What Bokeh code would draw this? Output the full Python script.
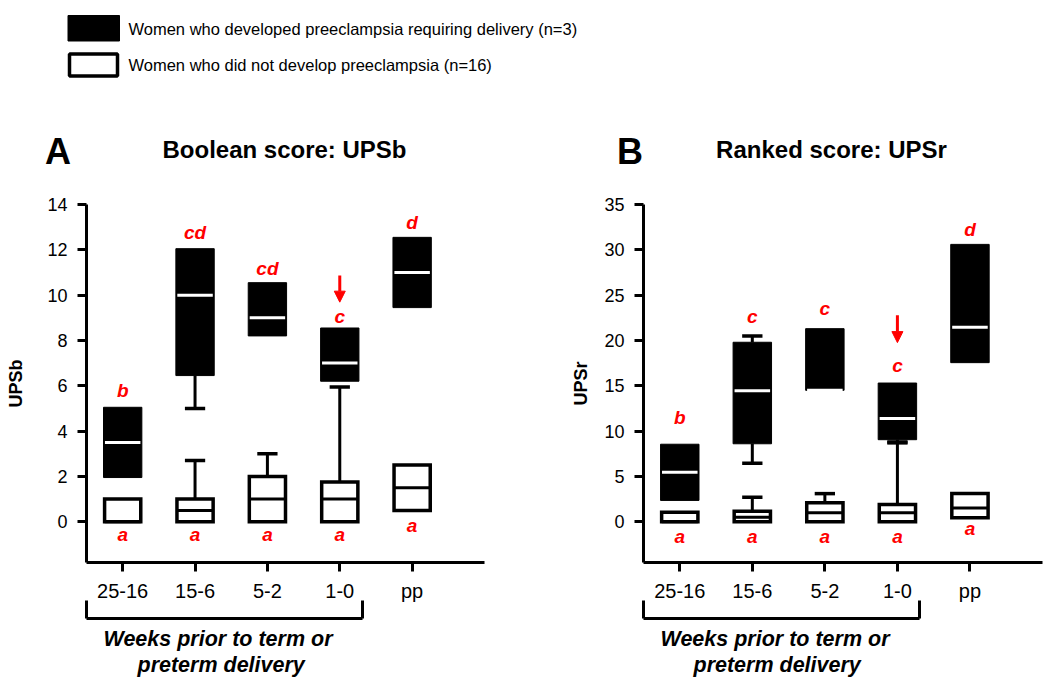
import math
from bokeh.plotting import figure
from bokeh.models import (Range1d, FixedTicker, SingleIntervalTicker, LinearAxis, Arrow,
                          NormalHead, Title, CustomLabelingPolicy)
from bokeh.layouts import column, row
from bokeh.core.properties import value
from bokeh.embed import file_html
from bokeh.resources import INLINE

NaN = float("nan")

# ---------------- data ----------------
groups = ["25-16", "15-6", "5-2", "1-0", "pp"]
xpos = [1, 2, 3, 4, 5]
antepartum = [1, 4]          # groups covered by the bracket (first, last)

legend_labels = ["Women who developed preeclampsia requiring delivery (n=3)",
                 "Women who did not develop preeclampsia (n=16)"]
panel_letters = ["A", "B"]
panel_titles = ["Boolean score: UPSb", "Ranked score: UPSr"]
y_labels = ["UPSb", "UPSr"]
x_caption = ["Weeks prior to term or", "preterm delivery"]

# Panel A : Boolean score UPSb
a_pe_q1 = [1.95, 6.45, 8.2, 6.2, 9.45]
a_pe_med = [3.5, 10.0, 9.0, 7.0, 11.0]
a_pe_q3 = [5.05, 12.05, 10.55, 8.55, 12.55]
a_pe_lo = [NaN, 5.0, NaN, NaN, NaN]
a_pe_hi = [NaN, NaN, NaN, NaN, NaN]

a_np_q1 = [0.0, 0.0, 0.0, 0.0, 0.5]
a_np_med = [0.0, 0.5, 1.0, 1.0, 1.5]
a_np_q3 = [1.0, 1.0, 2.0, 1.75, 2.5]
a_np_hi = [NaN, 2.7, 3.0, 5.95, NaN]

a_top_letters = ["b", "cd", "cd", "c", "d"]
a_top_y = [5.77, 12.75, 11.17, 9.04, 13.2]
a_bot_letters = ["a", "a", "a", "a", "a"]
a_bot_y = [-0.56, -0.56, -0.56, -0.56, -0.16]
a_arrow = (4, 10.87, 9.69)

# Panel B : Ranked score UPSr
b_pe_q1 = [2.35, 8.6, 14.5, 9.05, 17.55]
b_pe_med = [5.45, 14.45, 14.5, 11.4, 21.45]
b_pe_q3 = [8.55, 19.8, 21.3, 15.3, 30.6]
b_pe_lo = [NaN, 6.45, NaN, 8.7, NaN]
b_pe_hi = [NaN, 20.5, NaN, NaN, NaN]

b_np_q1 = [0.0, 0.0, 0.0, 0.0, 0.45]
b_np_med = [0.0, 0.5, 1.0, 1.0, 1.5]
b_np_q3 = [1.05, 1.15, 2.1, 1.9, 3.1]
b_np_hi = [NaN, 2.7, 3.1, 8.8, NaN]

b_top_letters = ["b", "c", "c", "c", "d"]
b_top_y = [11.55, 22.67, 23.5, 17.2, 32.2]
b_bot_letters = ["a", "a", "a", "a", "a"]
b_bot_y = [-1.62, -1.62, -1.62, -1.62, -0.77]
b_arrow = (4, 22.78, 19.76)

# ---------------- styling ----------------
FONT = "Liberation Sans"
RED = "#ff0000"
PE_W = 0.53
NP_W = 0.50
CAP = 0.14
HEAD_H = 180
PANEL_H = 510

NO_LABELS = "for (const i of indices) { indices.unset(i) }\nreturn indices"


def make_panel(ylab, yr, interval, width, border_left, border_right, label_standoff,
               caption_offsets):
    p = figure(width=width, height=PANEL_H, x_range=Range1d(0.5, 6.0), y_range=Range1d(*yr),
               output_backend="svg", toolbar_location=None,
               min_border_left=border_left, min_border_right=border_right,
               min_border_top=24, min_border_bottom=128, outline_line_color=None)
    p.grid.visible = False
    for ax in (p.xaxis[0], p.yaxis[0]):
        ax.axis_line_width = 3
        ax.major_tick_line_width = 3
        ax.major_tick_out = 9
        ax.major_tick_in = 0
        ax.minor_tick_line_color = None
        ax.major_label_text_font = FONT
        ax.major_label_text_color = "black"
        ax.major_label_standoff = 10
    xa = p.xaxis[0]
    xa.ticker = FixedTicker(ticks=xpos)
    xa.major_label_overrides = {x: g for x, g in zip(xpos, groups)}
    xa.major_label_text_font_size = "20px"
    xa.major_label_standoff = 8
    p.yaxis.ticker = SingleIntervalTicker(interval=interval)
    p.yaxis.major_label_text_font_size = "18px"
    p.yaxis.axis_label = ylab
    p.yaxis.axis_label_text_font = FONT
    p.yaxis.axis_label_text_font_style = "bold"
    p.yaxis.axis_label_text_font_size = "18px"
    p.yaxis.axis_label_text_color = "black"
    p.yaxis.axis_label_standoff = label_standoff

    # invisible spacer axis between tick labels and bracket
    spacer = LinearAxis(ticker=FixedTicker(ticks=[xpos[2]]), axis_line_alpha=0,
                        major_tick_line_alpha=0, minor_tick_line_color=None,
                        major_tick_out=10, major_tick_in=0, minor_tick_out=0,
                        major_label_text_font_size="1px", major_label_standoff=0,
                        major_label_policy=CustomLabelingPolicy(code=NO_LABELS))
    p.add_layout(spacer, "below")

    # bracket under the antepartum groups, drawn as a bounded axis
    b0 = antepartum[0] - 0.498
    b1 = antepartum[1] + 0.31
    br = LinearAxis(bounds=(b0, b1), ticker=FixedTicker(ticks=[b0, b1]),
                    axis_line_width=3, major_tick_line_width=3, major_tick_in=18,
                    major_tick_out=0, minor_tick_line_color=None, minor_tick_out=0,
                    major_label_text_font_size="1px", major_label_standoff=0,
                    major_label_policy=CustomLabelingPolicy(code=NO_LABELS))
    p.add_layout(br, "below")

    for txt, off, so in zip(x_caption, caption_offsets, (4, -4)):
        p.add_layout(Title(text=txt, align="left", offset=off, standoff=so,
                           text_font=FONT, text_font_style="bold italic",
                           text_font_size="21.5px", text_color="black"), "below")
    return p


def whisker(p, base, ends):
    xs = [x for x, e in zip(xpos, ends) if not math.isnan(e)]
    b = [v for v, e in zip(base, ends) if not math.isnan(e)]
    e_ = [e for e in ends if not math.isnan(e)]
    if not xs:
        return
    p.segment(x0=xs, x1=xs, y0=b, y1=e_, line_color="black", line_width=3)
    p.segment(x0=[x - CAP for x in xs], x1=[x + CAP for x in xs], y0=e_, y1=e_,
              line_color="black", line_width=3.5)


def draw(p, pe, npb, top, bot, arrow):
    pe_q1, pe_med, pe_q3, pe_lo, pe_hi = pe
    np_q1, np_med, np_q3, np_hi = npb
    # open boxes (no preeclampsia)
    whisker(p, np_q3, np_hi)
    p.vbar(x=xpos, width=NP_W, bottom=np_q1, top=np_q3, fill_color="white",
           line_color="black", line_width=3.5, line_join="miter")
    p.segment(x0=[x - NP_W / 2 for x in xpos], x1=[x + NP_W / 2 for x in xpos],
              y0=np_med, y1=np_med, line_color="black", line_width=3)
    # black boxes (preeclampsia)
    whisker(p, pe_q1, pe_lo)
    whisker(p, pe_q3, pe_hi)
    p.vbar(x=xpos, width=PE_W, bottom=pe_q1, top=pe_q3, fill_color="black",
           line_color="black", line_width=1)
    p.segment(x0=[x - PE_W / 2 + 0.02 for x in xpos], x1=[x + PE_W / 2 - 0.02 for x in xpos],
              y0=pe_med, y1=pe_med, line_color="white", line_width=3)
    # significance letters
    for letters, ys in (top, bot):
        p.text(x=xpos, y=ys, text=letters, text_font=value(FONT), text_font_style="bold italic",
               text_color=RED, text_font_size="19px", text_align="center",
               text_baseline="middle")
    ax, y0, y1 = arrow
    p.add_layout(Arrow(x_start=ax, y_start=y0, x_end=ax, y_end=y1, line_color=RED,
                       line_width=3, end=NormalHead(size=11, fill_color=RED, line_color=RED,
                                                    line_width=1)))


pA = make_panel(y_labels[0], (-1.8, 14), 2, 525, 86, 41, 18, (17, 51))
draw(pA, (a_pe_q1, a_pe_med, a_pe_q3, a_pe_lo, a_pe_hi), (a_np_q1, a_np_med, a_np_q3, a_np_hi),
     (a_top_letters, a_top_y), (a_bot_letters, a_bot_y), a_arrow)

pB = make_panel(y_labels[1], (-4.5, 35), 5, 525, 118, 8, 10, (17, 50))
draw(pB, (b_pe_q1, b_pe_med, b_pe_q3, b_pe_lo, b_pe_hi), (b_np_q1, b_np_med, b_np_q3, b_np_hi),
     (b_top_letters, b_top_y), (b_bot_letters, b_bot_y), b_arrow)

# ---------------- header strip: legend and panel titles (pixel coordinates) ----------------
head = figure(width=1050, height=HEAD_H, x_range=Range1d(0, 1050), y_range=Range1d(HEAD_H, 0),
              x_axis_type=None, y_axis_type=None, toolbar_location=None, output_backend="svg",
              min_border=0, outline_line_color=None)
# legend keys
head.quad(left=[67.5], right=[119], top=[15], bottom=[40.5], fill_color="black",
          line_color="black", line_width=1)
head.quad(left=[69], right=[117], top=[53.5], bottom=[75.5], fill_color="white",
          line_color="black", line_width=3.5)
head.text(x=[128, 128], y=[28, 64.5], text=legend_labels, text_font=value(FONT),
          text_font_size="16.5px", text_color="black", text_align="left",
          text_baseline="middle")
# panel letters and titles
head.text(x=[57.5, 629.5], y=[151, 151], text=panel_letters, text_font=value(FONT),
          text_font_style="bold", text_font_size="36px", text_color="black",
          text_align="center", text_baseline="middle")
head.text(x=[284, 831], y=[149, 149], text=panel_titles, text_font=value(FONT),
          text_font_style="bold", text_font_size="24px", text_color="black",
          text_align="center", text_baseline="middle")

layout = column(head, row(pA, pB))
open("out.html", "w").write(file_html(layout, INLINE))
